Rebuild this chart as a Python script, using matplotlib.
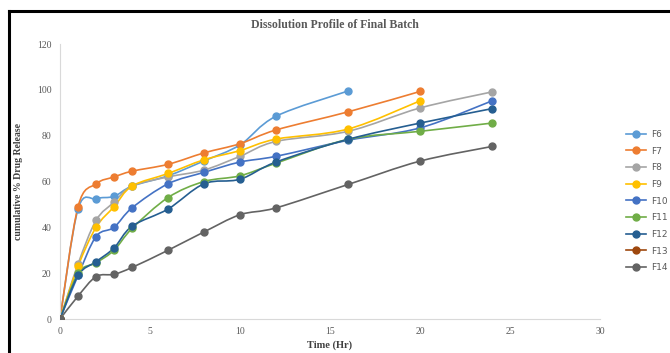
import numpy as np
import matplotlib
matplotlib.use('Agg')
import matplotlib.pyplot as plt
from matplotlib.path import Path
from matplotlib.patches import PathPatch
from matplotlib.lines import Line2D

# time points (Hr)
t16 = [0, 1, 2, 3, 4, 6, 8, 10, 12, 16]
t20 = [0, 1, 2, 3, 4, 6, 8, 10, 12, 16, 20]
t24 = [0, 1, 2, 3, 4, 6, 8, 10, 12, 16, 20, 24]

f6 = [0, 48, 52.5, 53.5, 58, 62.5, 69, 76, 88.5, 99.5]
f7 = [0, 49, 59, 62, 64.5, 67.5, 72.5, 76.5, 82.5, 90.4, 99.3]
f8 = [0, 24, 43, 51, 58, 62, 65, 71, 77.5, 81.9, 92.1, 99.1]
f9 = [0, 23, 40, 49, 58, 63.5, 69.5, 73.5, 78.5, 82.9, 95.2]
f10 = [0, 19, 36, 40, 48.5, 59, 64, 68.5, 71, 78, 83.4, 95.2]
f11 = [0, 20, 24.5, 30, 39.5, 53, 60, 62.5, 68, 78.4, 81.9, 85.5]
f12 = [0, 19, 25, 31, 40.5, 48, 59, 61, 68.5, 78.4, 85.5, 91.8]
f13 = [0]
f14 = [0, 10, 18.5, 19.5, 22.5, 30, 38, 45.5, 48.5, 58.7, 68.9, 75.3]

series = [
    ('F6', t16, f6, '#5B9BD5'),
    ('F7', t20, f7, '#ED7D31'),
    ('F8', t24, f8, '#A5A5A5'),
    ('F9', t20, f9, '#FFC000'),
    ('F10', t24, f10, '#4472C4'),
    ('F11', t24, f11, '#70AD47'),
    ('F12', t24, f12, '#255E91'),
    ('F13', [0], f13, '#9E480E'),
    ('F14', t24, f14, '#636363'),
]

serif = 'Liberation Serif'
grey_txt = '#595959'


def smooth_path(x, y, k=1/6.):
    # excel-like smoothed line: cubic bezier through the points
    x = np.asarray(x, float)
    y = np.asarray(y, float)
    verts = [(x[0], y[0])]
    codes = [Path.MOVETO]
    n = len(x)
    for i in range(n - 1):
        p0 = np.array([x[max(i-1, 0)], y[max(i-1, 0)]])
        p1 = np.array([x[i], y[i]])
        p2 = np.array([x[i+1], y[i+1]])
        p3 = np.array([x[min(i+2, n-1)], y[min(i+2, n-1)]])
        c1 = p1 + (p2 - p0) * k
        c2 = p2 - (p3 - p1) * k
        verts += [tuple(c1), tuple(c2), tuple(p2)]
        codes += [Path.CURVE4] * 3
    return Path(verts, codes)


fig = plt.figure(figsize=(6.7, 3.53), dpi=100)
ax = fig.add_axes([0.0896, 0.0963, 0.806, 0.779])

handles = []
for name, t, v, c in series:
    if len(t) > 1:
        ax.add_patch(PathPatch(smooth_path(t, v), facecolor='none', edgecolor=c,
                               linewidth=1.2, zorder=2))
    ax.plot(t, v, linestyle='none', marker='o', markersize=5, color=c, zorder=3)
    handles.append(Line2D([], [], color=c, linewidth=1.2, marker='o', markersize=5, label=name))

ax.set_xlim(0, 30)
ax.set_ylim(0, 120)
ax.set_xticks(np.arange(0, 31, 5))
ax.set_yticks(np.arange(0, 121, 20))
for s in ['top', 'right']:
    ax.spines[s].set_visible(False)
ax.spines['left'].set_color('#D9D9D9')
ax.spines['bottom'].set_color('#D9D9D9')
ax.tick_params(length=0, labelsize=7, labelcolor=grey_txt, pad=6)
for lab in ax.get_xticklabels() + ax.get_yticklabels():
    lab.set_family(serif)

ax.set_xlabel('Time (Hr)', fontsize=7.5, fontweight='bold', family=serif, color='#404040', labelpad=3)
ax.set_ylabel('cumulative % Drug Release', fontsize=7, fontweight='bold', family=serif, color='#404040', labelpad=10)
fig.text(0.5, 0.93, 'Dissolution Profile of Final Batch', ha='center', va='center',
         fontsize=8.5, fontweight='bold', family=serif, color=grey_txt)

leg = fig.legend(handles=handles, loc='upper left', bbox_to_anchor=(0.928, 0.645),
                 frameon=False, fontsize=6.5, handlelength=2.2, labelspacing=0.85,
                 handletextpad=0.5, borderpad=0)
for txt in leg.get_texts():
    txt.set_color(grey_txt)

# cropped frame: top and left black lines
fig.add_artist(Line2D([0.013, 1.0], [0.969, 0.969], color='black', linewidth=2.2, transform=fig.transFigure))
fig.add_artist(Line2D([0.013, 0.013], [0.0, 0.969], color='black', linewidth=2.2, transform=fig.transFigure))

fig.savefig('out.png', dpi=100)
